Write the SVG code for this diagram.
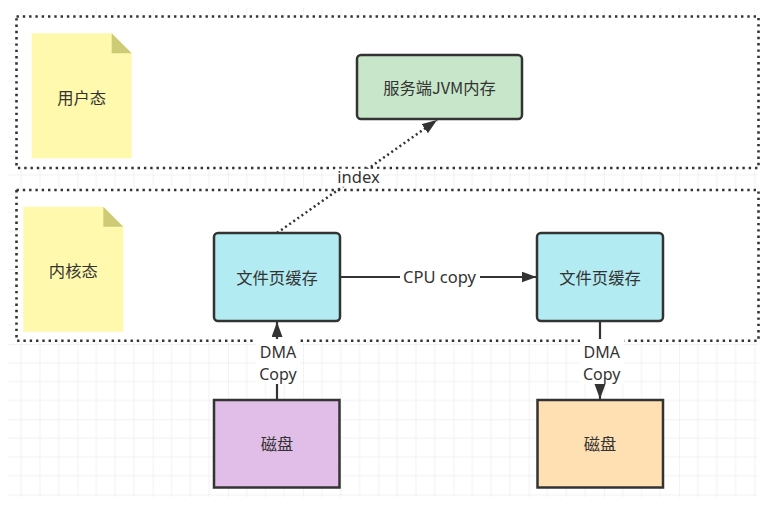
<svg xmlns="http://www.w3.org/2000/svg" width="776" height="512" viewBox="0 0 776 512">
<defs>
<pattern id="grid" patternUnits="userSpaceOnUse" x="2.3" y="43.3" width="75.2" height="75.2">
<path d="M18.8 0V75.2M37.6 0V75.2M56.4 0V75.2M0 18.8H75.2M0 37.6H75.2M0 56.4H75.2" stroke="#f1f1f1" stroke-width="1" fill="none"/>
<path d="M0 0V75.2M0 0H75.2" stroke="#e6e6e6" stroke-width="1" fill="none"/>
</pattern>
<marker id="arr" markerUnits="userSpaceOnUse" markerWidth="16" markerHeight="12" refX="15" refY="5.5" orient="auto">
<path d="M0 0L15 5.5L0 11Z" fill="#333"/>
</marker>
</defs>
<style>
.cont{fill:#fff;stroke:#333;stroke-width:2.6;stroke-dasharray:2.4 3.9}
.box{stroke:#333;stroke-width:2.5}
.note{fill:#fff9ae}
.fold{fill:#cdcb76}
.zh{font-family:"Noto Sans CJK SC","Noto Sans",sans-serif;font-size:16.3px;fill:#333;text-anchor:middle;dominant-baseline:central}
.lbl{font-family:"Noto Sans","Noto Sans CJK SC",sans-serif;font-size:16.5px;fill:#333;text-anchor:middle}
.dma{font-size:16px}
.ln{stroke:#333;stroke-width:2.2;fill:none}
.dot{stroke:#333;stroke-width:2.5;fill:none;stroke-dasharray:2 3}
.bg{fill:#fff}
</style>
<rect x="8" y="8" width="750" height="489" fill="url(#grid)"/>
<g id="user-space">
<rect class="cont" x="16.5" y="16.5" width="742" height="151.5"/>
</g>
<g id="kernel-space">
<rect class="cont" x="16.5" y="190" width="742" height="150.7"/>
</g>
<g id="note-user">
<path class="note" d="M31.7 33.3H111.7L131.7 53.3V158.3H31.7Z"/>
<path class="fold" d="M111.7 33.3L131.7 53.3H111.7Z"/>
<text class="zh" x="81.7" y="97">用户态</text>
</g>
<g id="note-kernel">
<path class="note" d="M23.3 206.7H103.3L123.3 226.7V331.7H23.3Z"/>
<path class="fold" d="M103.3 206.7L123.3 226.7H103.3Z"/>
<text class="zh" x="73.3" y="270">内核态</text>
</g>
<g id="jvm">
<rect class="box" x="357" y="55" width="165" height="64" rx="4" fill="#c8e6c9"/>
<text class="zh" x="439.5" y="87">服务端JVM内存</text>
</g>
<g id="cache1">
<rect class="box" x="214" y="233" width="126" height="88" rx="4" fill="#b2ebf2"/>
<text class="zh" x="277" y="277">文件页缓存</text>
</g>
<g id="cache2">
<rect class="box" x="537" y="233" width="126" height="88" rx="4" fill="#b2ebf2"/>
<text class="zh" x="600" y="277">文件页缓存</text>
</g>
<g id="disk1">
<rect class="box" x="214" y="400" width="125.5" height="87.5" fill="#e1bee7"/>
<text class="zh" x="277" y="443">磁盘</text>
</g>
<g id="disk2">
<rect class="box" x="537.5" y="400" width="125.5" height="87.5" fill="#ffe0b2"/>
<text class="zh" x="600" y="443">磁盘</text>
</g>
<g id="connectors">
<path class="dot" d="M277 233L437 120" marker-end="url(#arr)"/>
<rect class="bg" x="335" y="168.8" width="48" height="18"/>
<text class="lbl" x="358.5" y="182.5">index</text>
<path class="ln" d="M340 277H536.5" marker-end="url(#arr)"/>
<rect class="bg" x="400" y="267" width="80" height="20"/>
<text class="lbl" x="439.5" y="283">CPU copy</text>
<path class="ln" d="M277 400V322" marker-end="url(#arr)"/>
<rect class="bg" x="256" y="339" width="44" height="45"/>
<text class="lbl dma" x="278" y="357.5">DMA<tspan x="278" dy="22">Copy</tspan></text>
<path class="ln" d="M600 322V399" marker-end="url(#arr)"/>
<rect class="bg" x="580" y="339" width="44" height="45"/>
<text class="lbl dma" x="601.7" y="357.5">DMA<tspan x="601.7" dy="22">Copy</tspan></text>
</g>
</svg>
